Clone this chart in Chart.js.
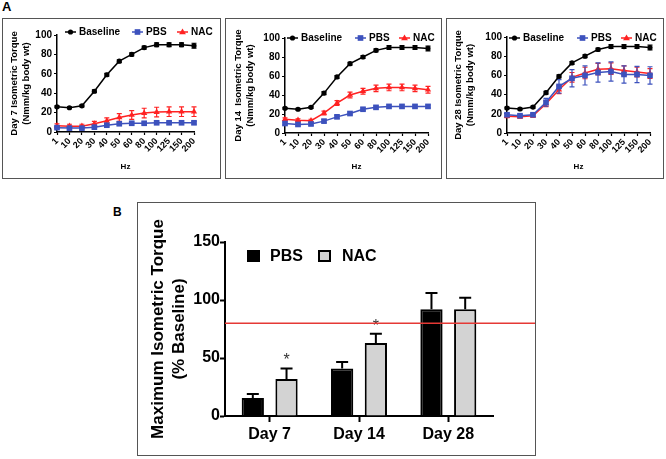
<!DOCTYPE html>
<html>
<head>
<meta charset="utf-8">
<script src="https://cdn.jsdelivr.net/npm/chart.js@4.4.0/dist/chart.umd.min.js"></script>
<style>
  body { margin: 0; background: #fff; width: 666px; height: 459px; position: relative; overflow: hidden; font-family: 'Liberation Sans', Arial, sans-serif; }
  canvas { position: absolute; }
  .box { position: absolute; border: 1.5px solid #555; box-sizing: border-box; }
  .tag { position: absolute; font-weight: bold; line-height: 1; }
</style>
</head>
<body>
<div class="tag" style="left:2px;top:0px;font-size:13px">A</div>
<div class="tag" style="left:113px;top:206px;font-size:12px">B</div>

<canvas id="day7" width="219" height="161" style="left:2px;top:18px"></canvas>
<canvas id="day14" width="217" height="161" style="left:225px;top:18px"></canvas>
<canvas id="day28" width="218" height="161" style="left:446px;top:18px"></canvas>
<canvas id="maxTorque" width="399" height="254" style="left:137px;top:202px"></canvas>

<div class="box" style="left:2px;top:18px;width:219px;height:161px"></div>
<div class="box" style="left:225px;top:18px;width:217px;height:161px"></div>
<div class="box" style="left:446px;top:18px;width:218px;height:161px"></div>
<div class="box" style="left:137px;top:202px;width:399px;height:254px"></div>

<script>
// stimulation frequencies (Hz)
const hz = ['1', '10', '20', '30', '40', '50', '60', '80', '100', '125', '150', '200'];

// baseline torque (Nmm/kg body wt), same in all panels
const baseline    = [26, 25, 27, 42, 59, 73, 80, 87, 90, 90, 90, 89];
const baselineErr = [1, 1, 1, 1.5, 1.5, 1.5, 1.5, 1.5, 2, 2, 2, 2.5];

// day 7
const pbs7    = [4.5, 4, 4, 5, 7, 8.5, 9, 9, 9.5, 9.5, 9.5, 9.5];
const pbs7Err = [1, 1, 1, 1, 1, 1.5, 1.5, 1.5, 1.5, 1.5, 1.5, 1.5];
const nac7    = [6.5, 6, 6, 8.5, 11.5, 15, 17.5, 19.5, 20.5, 21, 21, 21];
const nac7Err = [2, 2, 2, 2.5, 3, 4, 4.5, 5, 5, 5, 5, 5];

// day 14
const pbs14    = [10, 9, 9.5, 12.5, 17, 20.5, 25, 27, 28, 28, 28, 28];
const pbs14Err = [1.5, 1.5, 1.5, 1.5, 1.5, 1.5, 1.5, 1.5, 1.5, 1.5, 1.5, 1.5];
const nac14    = [14.5, 13.5, 13, 21, 31.5, 40, 44, 47, 48, 48, 47, 45.5];
const nac14Err = [1.5, 1.5, 1.5, 2, 2.5, 3, 3, 3.5, 3.5, 3.5, 3.5, 3.5];

// day 28
const pbs28    = [19, 18, 19, 32, 48.5, 57, 60, 63, 64, 61, 61, 60];
const pbs28Err = [1.5, 1.5, 1.5, 4, 7, 9, 10, 10, 10, 9, 8.5, 9];
const nac28    = [17.5, 17, 18, 30.5, 45, 58, 62.5, 66.5, 67, 65, 63.5, 62];
const nac28Err = [1.5, 1.5, 1.5, 3, 4, 5, 6, 6, 6, 5, 5, 5];

// panel B: maximum torque (% baseline)
const days      = ['Day 7', 'Day 14', 'Day 28'];
const pbsMax    = [15.5, 41, 92];
const pbsMaxErr = [3.5, 5.5, 14];
const nacMax    = [32, 63, 92];
const nacMaxErr = [9, 8, 10];
const nacSig    = [true, true, false];
const refLine   = 80;

const FONT = "'Liberation Sans', Arial, sans-serif";
Chart.defaults.font.family = FONT;
Chart.defaults.color = '#000';

const BLUE = '#3d52bd';
const RED = '#ff2222';

function marker(ctx, style, r, x, y) {
  ctx.beginPath();
  if (style === 'rect') {
    const s = r * Math.SQRT1_2;
    ctx.rect(x - s, y - s, 2 * s, 2 * s);
  } else if (style === 'triangle') {
    ctx.moveTo(x, y - r);
    ctx.lineTo(x + r * 0.95, y + r * 0.6);
    ctx.lineTo(x - r * 0.95, y + r * 0.6);
    ctx.closePath();
  } else {
    ctx.arc(x, y, r, 0, Math.PI * 2);
  }
  ctx.fill();
}

// error bars (both ways) for the line panels
const lineErrors = {
  id: 'lineErrors',
  afterDatasetDraw(chart, args) {
    const ds = chart.data.datasets[args.index];
    if (!ds.err) return;
    const ctx = chart.ctx, y = chart.scales.y;
    ctx.save();
    ctx.strokeStyle = ds.borderColor;
    ctx.lineWidth = 1.2;
    args.meta.data.forEach((pt, i) => {
      const hi = y.getPixelForValue(ds.data[i] + ds.err[i]);
      const lo = y.getPixelForValue(ds.data[i] - ds.err[i]);
      ctx.beginPath();
      ctx.moveTo(pt.x, hi); ctx.lineTo(pt.x, lo);
      ctx.moveTo(pt.x - 2.5, hi); ctx.lineTo(pt.x + 2.5, hi);
      ctx.moveTo(pt.x - 2.5, lo); ctx.lineTo(pt.x + 2.5, lo);
      ctx.stroke();
    });
    ctx.restore();
  }
};

// key with line + marker, as in the original panels
const lineKey = {
  id: 'lineKey',
  afterDraw(chart, args, o) {
    const ctx = chart.ctx;
    ctx.save();
    ctx.font = 'bold 10px ' + FONT;
    ctx.textBaseline = 'middle';
    chart.data.datasets.forEach((ds, i) => {
      const x0 = o.starts[i];
      ctx.strokeStyle = ds.borderColor;
      ctx.fillStyle = ds.backgroundColor;
      ctx.lineWidth = 1.5;
      ctx.beginPath(); ctx.moveTo(x0, o.y); ctx.lineTo(x0 + 11, o.y); ctx.stroke();
      marker(ctx, ds.pointStyle, ds.pointRadius, x0 + 5.5, o.y);
      ctx.fillStyle = '#000';
      ctx.fillText(ds.label, x0 + 14, o.y + 0.5);
    });
    ctx.restore();
  }
};

function series(label, data, err, color, style, r) {
  return {
    label, data, err,
    borderColor: color, backgroundColor: color,
    borderWidth: 1.5, tension: 0,
    pointStyle: style, pointRadius: r, pointBorderWidth: 0
  };
}

function topChart(id, p) {
  return new Chart(document.getElementById(id), {
    type: 'line',
    data: {
      labels: hz,
      datasets: [
        series('Baseline', baseline, baselineErr, '#000', 'circle', 2.6),
        series('PBS', p.pbs, p.pbsErr, BLUE, 'rect', 4),
        series('NAC', p.nac, p.nacErr, RED, 'triangle', 3.6)
      ]
    },
    options: {
      responsive: false,
      animation: false,
      layout: { padding: { left: 0, top: p.top, right: p.right, bottom: 0 } },
      plugins: {
        legend: { display: false },
        tooltip: { enabled: false },
        lineKey: { starts: p.key, y: p.keyY }
      },
      scales: {
        x: {
          type: 'category',
          offset: false,
          grid: { drawOnChartArea: false, tickLength: 3, tickColor: '#000', tickWidth: 1.2 },
          border: { color: '#000', width: 1.5 },
          ticks: { autoSkip: false, minRotation: 45, maxRotation: 45, padding: 1, font: { size: 9, weight: 'bold' } },
          title: { display: true, text: 'Hz', font: { size: 8, weight: 'bold' }, padding: { top: 0, bottom: 7 } },
          afterFit: s => { s.height = p.xh; }
        },
        y: {
          min: 0, max: 100,
          grid: { drawOnChartArea: false, tickLength: 3, tickColor: '#000', tickWidth: 1.2 },
          border: { color: '#000', width: 1.5 },
          ticks: { stepSize: 20, padding: 2, font: { size: 10, weight: 'bold' } },
          title: { display: true, text: p.title, font: { size: 9.5, weight: 'bold', lineHeight: 1.2 }, padding: { top: p.titlePad, bottom: 0 } },
          afterFit: s => { s.width = p.yw; }
        }
      }
    },
    plugins: [lineErrors, lineKey]
  });
}

topChart('day7', {
  pbs: pbs7, pbsErr: pbs7Err, nac: nac7, nacErr: nac7Err,
  title: ['Day 7 Isometric Torque', '(Nmm/kg body wt)'],
  top: 17, right: 27, xh: 47, yw: 55, titlePad: 7,
  key: [63, 130, 175], keyY: 14
});
topChart('day14', {
  pbs: pbs14, pbsErr: pbs14Err, nac: nac14, nacErr: nac14Err,
  title: ['Day 14  Isometric Torque', '(Nmm/kg body wt)'],
  top: 20, right: 14, xh: 46, yw: 60, titlePad: 8,
  key: [62, 130, 174], keyY: 20
});
topChart('day28', {
  pbs: pbs28, pbsErr: pbs28Err, nac: nac28, nacErr: nac28Err,
  title: ['Day 28 Isometric Torque', '(Nmm/kg body wt)'],
  top: 19, right: 14, xh: 46, yw: 61, titlePad: 7,
  key: [63, 131, 175], keyY: 20
});

// panel B extras: upward error bars, stars, red reference line, key
const barExtras = {
  id: 'barExtras',
  afterDatasetsDraw(chart) {
    const ctx = chart.ctx, y = chart.scales.y;
    ctx.save();
    ctx.strokeStyle = '#000';
    ctx.lineWidth = 2;
    chart.data.datasets.forEach((ds, di) => {
      chart.getDatasetMeta(di).data.forEach((bar, i) => {
        const top = y.getPixelForValue(ds.data[i] + ds.err[i]);
        ctx.beginPath();
        ctx.moveTo(bar.x, bar.y); ctx.lineTo(bar.x, top);
        ctx.moveTo(bar.x - 6, top); ctx.lineTo(bar.x + 6, top);
        ctx.stroke();
        if (ds.sig && ds.sig[i]) {
          ctx.fillStyle = '#333';
          ctx.font = '16px ' + FONT;
          ctx.textAlign = 'center';
          ctx.textBaseline = 'alphabetic';
          ctx.fillText('*', bar.x, top - 3);
        }
      });
    });
    // reference line
    const ry = y.getPixelForValue(refLine);
    ctx.strokeStyle = '#e53935';
    ctx.lineWidth = 1.5;
    ctx.beginPath();
    ctx.moveTo(chart.chartArea.left, ry);
    ctx.lineTo(chart.width, ry);
    ctx.stroke();
    // key
    ctx.font = 'bold 16px ' + FONT;
    ctx.textAlign = 'left';
    ctx.textBaseline = 'middle';
    ctx.fillStyle = '#000';
    ctx.fillRect(110, 48, 13, 12);
    ctx.fillText('PBS', 133, 55);
    ctx.fillStyle = '#d3d3d3';
    ctx.fillRect(182, 49, 11, 10);
    ctx.strokeStyle = '#000';
    ctx.lineWidth = 2;
    ctx.strokeRect(182, 49, 11, 10);
    ctx.fillStyle = '#000';
    ctx.fillText('NAC', 205, 55);
    ctx.restore();
  }
};

new Chart(document.getElementById('maxTorque'), {
  type: 'bar',
  data: {
    labels: days,
    datasets: [
      { label: 'PBS', data: pbsMax, err: pbsMaxErr, backgroundColor: '#000', borderColor: '#000', borderWidth: 2 },
      { label: 'NAC', data: nacMax, err: nacMaxErr, sig: nacSig, backgroundColor: '#d3d3d3', borderColor: '#000', borderWidth: 2 }
    ]
  },
  options: {
    responsive: false,
    animation: false,
    categoryPercentage: 0.755,
    barPercentage: 0.66,
    layout: { padding: { left: 0, top: 40, right: 43, bottom: 0 } },
    plugins: { legend: { display: false }, tooltip: { enabled: false } },
    scales: {
      x: {
        grid: { offset: false, drawOnChartArea: false, tickLength: 6, tickWidth: 2, tickColor: '#000' },
        border: { color: '#000', width: 2 },
        ticks: { padding: 3, font: { size: 16, weight: 'bold' } },
        afterFit: s => { s.height = 40; }
      },
      y: {
        min: 0, max: 150,
        grid: { drawOnChartArea: false, tickLength: 5, tickWidth: 2, tickColor: '#000' },
        border: { color: '#000', width: 2 },
        ticks: { stepSize: 50, padding: 0, font: { size: 16, weight: 'bold' } },
        title: { display: true, text: ['Maximum Isometric Torque', '(% Baseline)'], font: { size: 17, weight: 'bold', lineHeight: 1.25 }, padding: { top: 10.4, bottom: 0 } },
        afterFit: s => { s.width = 88; }
      }
    }
  },
  plugins: [barExtras]
});
</script>
</body>
</html>
